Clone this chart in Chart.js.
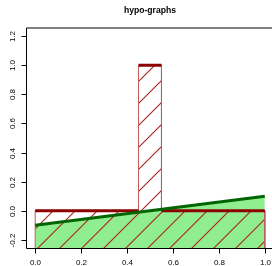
<!DOCTYPE html>
<html>
<head>
<meta charset="utf-8">
<script src="https://cdn.jsdelivr.net/npm/chart.js@4/dist/chart.umd.min.js"></script>
<style>
html,body{margin:0;padding:0;overflow:hidden;background:#fff;width:272px;height:266px;}
canvas{display:block;}
</style>
</head>
<body>
<canvas id="c" width="290" height="266" style="width:290px;height:266px"></canvas>
<script>
const titleText = "hypo-graphs";
const xTicks = [0, 0.2, 0.4, 0.6, 0.8, 1.0];
const xTickLabels = ["0.0", "0.2", "0.4", "0.6", "0.8", "1.0"];
const yTicks = [-0.2, 0, 0.2, 0.4, 0.6, 0.8, 1.0, 1.2];
const yTickLabels = ["-0.2", "0.0", "0.2", "0.4", "0.6", "0.8", "1.0", "1.2"];
const stepX = [0, 0.45, 0.45, 0.55, 0.55, 1];
const stepY = [0, 0, 1, 1, 0, 0];
const lineX = [0, 1];
const lineY = [-0.1, 0.1];
const xMin = -0.04, xMax = 1.04, yMin = -0.256, yMax = 1.256;

// hatch pattern
function makeHatch() {
  const s = 22;
  const pc = document.createElement('canvas');
  pc.width = s; pc.height = s;
  const g = pc.getContext('2d');
  g.clearRect(0, 0, s, s);
  g.strokeStyle = 'rgb(170,34,34)';
  g.lineWidth = 1.1;
  g.beginPath();
  g.moveTo(-2, s + 2); g.lineTo(s + 2, -2);
  g.moveTo(-2, 2); g.lineTo(2, -2);
  g.moveTo(s - 2, s + 2); g.lineTo(s + 2, s - 2);
  g.stroke();
  return document.getElementById('c').getContext('2d').createPattern(pc, 'repeat');
}

const greenPts = lineX.map((x, i) => ({x, y: lineY[i]}));
const polyPts = [{x: stepX[0], y: yMin}].concat(stepX.map((x, i) => ({x, y: stepY[i]})), [{x: stepX[stepX.length - 1], y: yMin}]);
const topPts = [];
for (let i = 0; i < stepX.length - 1; i++) {
  if (stepY[i] === stepY[i + 1]) {
    if (topPts.length) topPts.push({x: stepX[i], y: null});
    topPts.push({x: stepX[i], y: stepY[i]}, {x: stepX[i + 1], y: stepY[i + 1]});
  }
}

const decor = {
  id: 'decor',
  beforeDatasetsDraw(chart) {
    const {ctx, chartArea: a} = chart;
    ctx.save();
    ctx.strokeStyle = '#000';
    ctx.lineWidth = 1;
    ctx.beginPath();
    ctx.moveTo(26.5, a.bottom + 0.5);
    ctx.lineTo(26.5, a.top);
    ctx.stroke();
    ctx.beginPath();
    ctx.moveTo(26.5, a.top);
    ctx.lineTo(a.right, a.top);
    ctx.moveTo(26.5, 248.5);
    ctx.lineTo(a.right, 248.5);
    ctx.stroke();
    ctx.restore();
  },
  afterDraw(chart) {
    const {ctx, chartArea: a, scales} = chart;
    const xs = scales.x, ys = scales.y;
    ctx.save();
    ctx.strokeStyle = '#000';
    ctx.fillStyle = '#000';
    ctx.lineWidth = 1;
    ctx.font = '8px "Liberation Sans", Arial, sans-serif';
    ctx.textAlign = 'center';
    ctx.textBaseline = 'middle';
    xTicks.forEach((v, i) => {
      const px = Math.round(xs.getPixelForValue(v)) + 0.5;
      ctx.beginPath();
      ctx.moveTo(px, 248.5);
      ctx.lineTo(px, 253.5);
      ctx.stroke();
      ctx.fillText(xTickLabels[i], px, 263);
    });
    yTicks.forEach((v, i) => {
      const py = Math.round(ys.getPixelForValue(v)) + 0.5;
      ctx.beginPath();
      ctx.moveTo(26.5, py);
      ctx.lineTo(21.5, py);
      ctx.stroke();
      ctx.save();
      ctx.translate(13, py);
      ctx.rotate(-Math.PI / 2);
      ctx.fillText(yTickLabels[i], 0, 0);
      ctx.restore();
    });
    ctx.font = 'bold 8.6px "Liberation Sans", Arial, sans-serif';
    ctx.fillText(titleText, (a.left + a.right) / 2, 11);
    ctx.restore();
  }
};

new Chart(document.getElementById('c'), {
  type: 'line',
  data: {
    datasets: [
      {label: 'green line', data: greenPts, borderColor: '#006400', borderWidth: 3, fill: false, pointRadius: 0, order: 1, borderCapStyle: 'butt'},
      {label: 'red top', data: topPts, borderColor: '#8B0000', borderWidth: 3, fill: false, pointRadius: 0, spanGaps: false, order: 2},
      {label: 'hatch', data: polyPts, borderColor: 'rgb(190,90,90)', borderWidth: 1, fill: 'start', backgroundColor: makeHatch(), pointRadius: 0, order: 3},
      {label: 'green fill', data: greenPts, borderWidth: 0, borderColor: 'rgba(0,0,0,0)', fill: 'start', backgroundColor: '#90EE90', pointRadius: 0, order: 4}
    ]
  },
  options: {
    responsive: false,
    animation: false,
    devicePixelRatio: 1,
    layout: {padding: {left: 26, top: 28, right: 16, bottom: 18}},
    plugins: {legend: {display: false}, tooltip: {enabled: false}, title: {display: false}},
    scales: {
      x: {type: 'linear', min: xMin, max: xMax, display: false},
      y: {type: 'linear', min: yMin, max: yMax, display: false}
    },
    elements: {line: {tension: 0}}
  },
  plugins: [decor]
});
</script>
</body>
</html>
